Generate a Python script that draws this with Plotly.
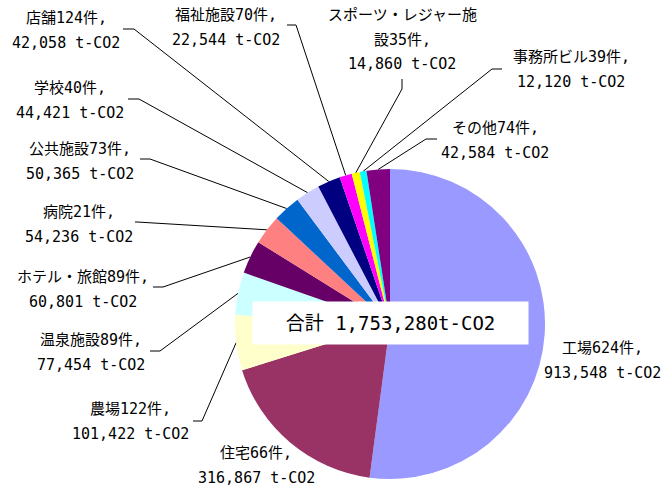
import math
import plotly.graph_objects as go

# ---- data ----
categories = ["工場", "住宅", "農場", "温泉施設", "ホテル・旅館", "病院", "公共施設",
              "学校", "店舗", "福祉施設", "スポーツ・レジャー施設", "事務所ビル", "その他"]
counts = [624, 66, 122, 89, 89, 21, 73, 40, 124, 70, 35, 39, 74]
values = [913548, 316867, 101422, 77454, 60801, 54236, 50365,
          44421, 42058, 22544, 14860, 12120, 42584]
colors = ["#9999FF", "#993366", "#FFFFCC", "#CCFFFF", "#660066", "#FF8080", "#0066CC",
          "#CCCCFF", "#000080", "#FF00FF", "#FFFF00", "#00FFFF", "#800080"]
total_label = "合計"

# ---- layout (pixels) ----
W, H = 661, 489
cx, cy, r = 390, 324, 155
FONT = "DejaVu Sans Mono, Noto Sans CJK JP"
LS = 24.5  # line spacing

# label placement: center x, first line y, leader elbow (start, end) or None
place = {
    "工場": (602, 348, None),
    "住宅": (256, 453, None),
    "農場": (130, 409, ((193, 421), (202, 421))),
    "温泉施設": (91, 340, ((150, 351), (160, 351))),
    "ホテル・旅館": (83, 277, ((153, 287), (163, 287))),
    "病院": (79, 212, ((135, 222), (137, 222))),
    "公共施設": (80, 149, ((140, 159), (150, 159))),
    "学校": (70, 88, ((128, 99), (139, 99))),
    "店舗": (66, 18, ((123, 29), (134, 29))),
    "福祉施設": (226, 15, ((287, 25), (296, 25))),
    "スポーツ・レジャー施設": (402, 15, ((402, 79), (402, 89))),
    "事務所ビル": (571, 57, ((502, 69), (492, 69))),
    "その他": (495, 128, ((437, 139), (426, 139))),
}
wrap = {"スポーツ・レジャー施設": 10}

fig = go.Figure()
fig.add_trace(go.Pie(
    values=values, labels=categories, sort=False, direction="clockwise", rotation=0,
    marker=dict(colors=colors, line=dict(width=0)), textinfo="none",
    domain=dict(x=[(cx - r) / W, (cx + r) / W], y=[(H - cy - r) / H, (H - cy + r) / H]),
    showlegend=False, hoverinfo="label+value",
))

total = sum(values)
lx, ly = [], []
annotations = []
cum = 0
for name, cnt, v in zip(categories, counts, values):
    mid = (cum + v / 2) / total * 2 * math.pi
    cum += v
    tx = cx + r * math.sin(mid)
    ty = cy - r * math.cos(mid)
    px, py, elbow = place[name]
    head = f"{name}{cnt}件,"
    if name in wrap:
        k = wrap[name]
        lines = [head[:k], head[k:], f"{v:,} t-CO2"]
    else:
        lines = [head, f"{v:,} t-CO2"]
    for i, t in enumerate(lines):
        annotations.append(dict(x=px, y=py + i * LS, xref="x", yref="y", text=t,
                                showarrow=False, xanchor="center", yanchor="middle",
                                font=dict(family=FONT, size=15, color="#000")))
    if elbow:
        (x0, y0), (x1, y1) = elbow
        lx += [x0, x1, tx, None]
        ly += [y0, y1, ty, None]

fig.add_trace(go.Scatter(x=lx, y=ly, mode="lines", line=dict(color="#000", width=1),
                         hoverinfo="skip", showlegend=False))

annotations.append(dict(x=cx, y=323, xref="x", yref="y",
                        text=f"{total_label} {total:,}t-CO2", showarrow=False,
                        bgcolor="#FFFFFF", width=273, height=40,
                        xanchor="center", yanchor="middle",
                        font=dict(family=FONT, size=19, color="#000")))

fig.update_layout(
    width=W, height=H, margin=dict(l=0, r=0, t=0, b=0),
    paper_bgcolor="#FFFFFF", plot_bgcolor="rgba(0,0,0,0)",
    xaxis=dict(range=[0, W], visible=False, fixedrange=True, domain=[0, 1]),
    yaxis=dict(range=[H, 0], visible=False, fixedrange=True, domain=[0, 1]),
    annotations=annotations, showlegend=False,
)
fig.write_html("out.html", config={"displayModeBar": False},
               post_script="document.body.style.margin='0';document.body.style.overflow='hidden';")
